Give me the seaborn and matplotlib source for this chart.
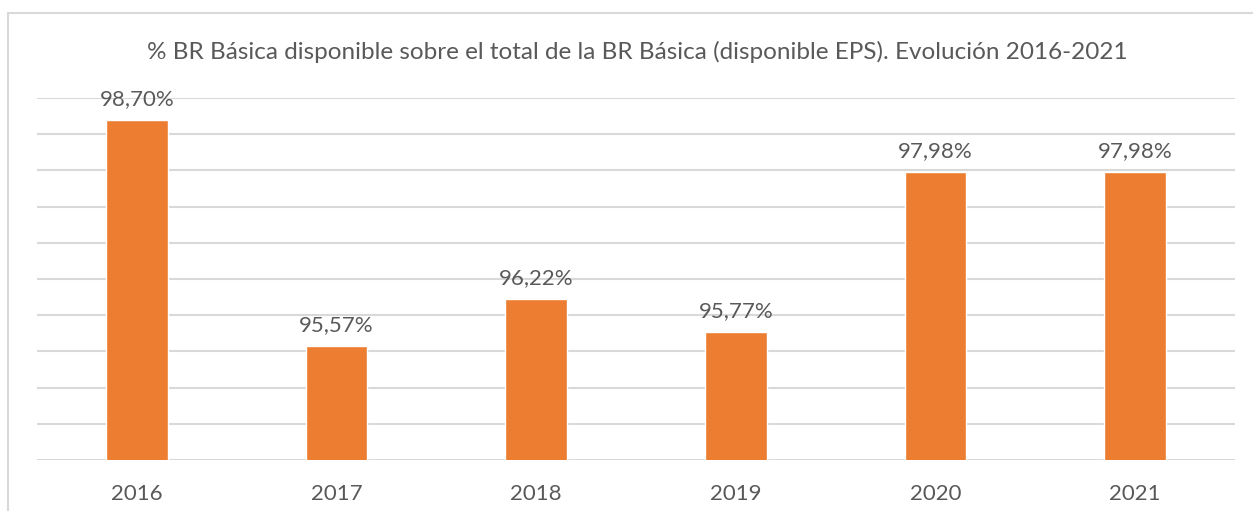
import matplotlib
matplotlib.use("Agg")
import matplotlib.pyplot as plt
import seaborn as sns
import pandas as pd
from matplotlib.lines import Line2D

years = ["2016", "2017", "2018", "2019", "2020", "2021"]
values = [98.70, 95.57, 96.22, 95.77, 97.98, 97.98]
labels = ["98,70%", "95,57%", "96,22%", "95,77%", "97,98%", "97,98%"]
title = "% BR Básica disponible sobre el total de la BR Básica (disponible EPS). Evolución 2016-2021"

ORANGE = "#ED7D31"
GRID = "#D9D9D9"
TEXT = "#595959"

sns.set_theme(style="white")
plt.rcParams["font.family"] = ["Lato", "DejaVu Sans"]

df = pd.DataFrame({"year": years, "value": values})

fig = plt.figure(figsize=(12.53, 5.11), dpi=100)
ax = fig.add_axes([37 / 1253, 1 - 460 / 511, (1235 - 37) / 1253, (460 - 98) / 511])

sns.barplot(data=df, x="year", y="value", color=ORANGE, width=0.31,
            saturation=1, ax=ax, zorder=3)

ax.set_ylim(94, 99)
ax.set_yticks([94 + 0.5 * i for i in range(11)])
ax.yaxis.grid(True, color=GRID, linewidth=1.5, zorder=0)
ax.set_axisbelow(True)
ax.tick_params(axis="y", left=False, labelleft=False)
ax.tick_params(axis="x", bottom=False, labelsize=16, labelcolor=TEXT, pad=11)
ax.set_xlabel("")
ax.set_ylabel("")
for s in ax.spines.values():
    s.set_visible(False)

for i, (v, lab) in enumerate(zip(values, labels)):
    ax.annotate(lab, (i, v), xytext=(0, 8), textcoords="offset points",
                ha="center", va="bottom", fontsize=16, color=TEXT)

fig.text(637 / 1253, 1 - 52 / 511, title, ha="center", va="center", fontsize=17.5, color=TEXT)

# chart frame (Excel-style border)
fig.add_artist(Line2D([8 / 1253, 8 / 1253], [0, 1 - 13 / 511], transform=fig.transFigure,
                      color=GRID, linewidth=1.5))
fig.add_artist(Line2D([8 / 1253, 1], [1 - 13 / 511, 1 - 13 / 511], transform=fig.transFigure,
                      color=GRID, linewidth=1.5))

fig.savefig("out.png", dpi=100, facecolor="white")
